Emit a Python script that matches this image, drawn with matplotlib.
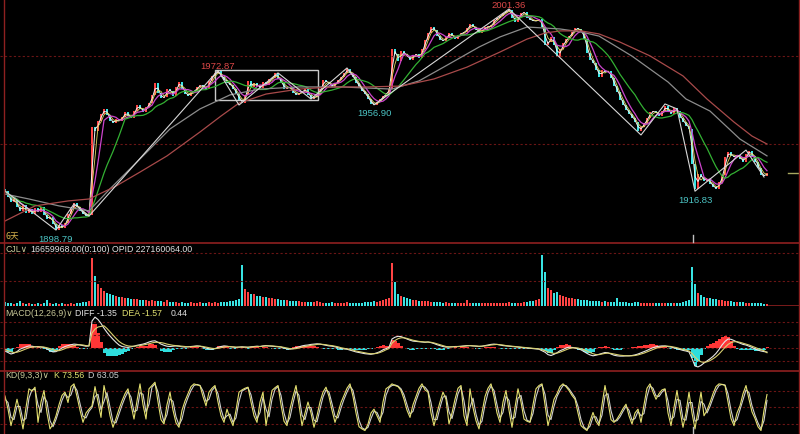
import matplotlib
matplotlib.use("Agg")
import matplotlib.pyplot as plt
from matplotlib.lines import Line2D
from matplotlib.patches import Rectangle
import numpy as np
import pandas as pd

# ---- data (one bar per candle, 6 sessions) ----
close = [
    1916.9, 1914.1, 1911.8, 1913.2, 1909.5, 1907.6, 1910.4, 1906.7, 1908.6, 1906.2,
    1909.0, 1907.2, 1909.5, 1905.8, 1903.9, 1904.9, 1901.6, 1898.8, 1901.1, 1899.7,
    1902.1, 1906.2, 1908.6, 1911.3, 1909.5, 1907.6, 1906.2, 1905.3, 1905.8,
    1946.6, 1944.8, 1949.4, 1952.6, 1955.0, 1952.2, 1949.4, 1948.5, 1950.3, 1949.4,
    1951.3, 1953.6, 1951.7, 1950.8, 1954.0, 1956.8, 1955.0, 1953.6, 1955.9, 1957.7,
    1961.5, 1967.0, 1962.4, 1960.1, 1960.5, 1964.2, 1963.3, 1961.0, 1965.2, 1967.5,
    1964.2, 1961.9, 1961.0, 1962.9, 1963.3, 1965.2, 1966.1, 1965.2, 1964.2, 1968.0,
    1970.3, 1971.7, 1972.6, 1969.8, 1968.4, 1967.0, 1966.1, 1964.2, 1961.9, 1959.1,
    1957.7, 1961.5, 1968.0, 1965.2, 1967.0, 1965.6, 1964.7, 1967.5, 1966.1, 1968.9,
    1969.3, 1971.7, 1968.9, 1967.0, 1964.2, 1965.2, 1964.7, 1962.4, 1961.5, 1962.4,
    1963.3, 1964.2, 1961.5, 1959.6, 1960.5, 1961.5, 1964.2, 1968.4, 1967.5, 1966.6,
    1965.2, 1967.0, 1968.4, 1969.8, 1971.7, 1973.5, 1971.7, 1969.8, 1967.0, 1964.7,
    1963.3, 1961.9, 1959.6, 1957.3, 1956.9, 1958.2, 1959.6, 1961.0, 1962.4, 1964.2,
    1982.8, 1980.5, 1977.2, 1981.9, 1980.5, 1979.1, 1977.7, 1980.0, 1980.5, 1978.6,
    1982.8, 1987.0, 1990.2, 1993.0, 1991.6, 1988.8, 1987.0, 1986.5, 1988.4, 1990.2,
    1988.8, 1987.4, 1989.3, 1990.2, 1990.7, 1992.5, 1994.4, 1993.0, 1991.6, 1990.2,
    1991.6, 1993.0, 1993.0, 1993.9, 1996.3, 1997.2, 1998.1, 1999.5, 2000.4, 2000.9,
    1997.2, 1995.3, 1997.6, 1999.5, 2000.0, 1997.2, 1996.3, 1995.8, 1995.8, 1996.7,
    1993.0, 1984.7, 1986.0, 1988.4, 1984.7, 1979.1, 1982.8, 1985.6, 1987.4, 1988.8,
    1990.7, 1992.5, 1992.1, 1990.7, 1987.4, 1980.9, 1977.7, 1976.3, 1973.1, 1969.8,
    1973.1, 1972.1, 1972.6, 1969.3, 1965.6, 1962.9, 1959.1, 1956.8, 1954.5, 1952.6,
    1950.8, 1948.9, 1944.8, 1946.6, 1948.5, 1950.8, 1953.6, 1954.0, 1953.1, 1951.7,
    1954.0, 1956.4, 1954.0, 1952.6, 1955.4, 1954.0, 1950.8, 1948.9, 1947.1, 1945.7,
    1929.4, 1917.8, 1924.8, 1923.4, 1921.6, 1922.5, 1920.2, 1918.8, 1917.8, 1921.1,
    1924.3, 1932.7, 1935.0, 1933.2, 1932.7, 1933.6, 1931.8, 1930.4, 1934.1, 1935.5,
    1933.2, 1930.4, 1927.6, 1924.3, 1923.9, 1925.3,
]
first_open = 1918.0

# volume in millions
volume = [
    32, 24, 24, 16, 24, 40, 24, 16, 24, 16, 16, 24, 16, 24, 48, 24, 16, 24, 16, 24,
    16, 16, 24, 16, 24, 24, 32, 32, 40,
    384, 240, 176, 144, 120, 104, 96, 88, 80, 72, 72, 64, 64, 56, 56, 56, 48, 48, 48, 40,
    48, 40, 40, 40, 32, 48, 32, 32, 32, 24, 32, 24, 24, 32, 24, 24, 32, 24, 24, 32,
    24, 32, 24, 32, 32, 32, 40, 40, 48, 56,
    328, 136, 112, 96, 96, 80, 80, 72, 72, 64, 64, 56, 56, 48, 48, 48, 40, 40, 40, 40,
    32, 32, 32, 32, 32, 40, 32, 24, 24, 24, 32, 24, 24, 24, 24, 32, 24, 24, 24, 24,
    24, 32, 32, 32, 40, 32, 40, 48, 56, 64,
    344, 192, 96, 80, 72, 64, 56, 48, 48, 40, 40, 40, 40, 32, 32, 32, 32, 24, 32, 24,
    24, 24, 24, 24, 24, 48, 24, 24, 24, 24, 24, 24, 24, 24, 24, 24, 24, 24, 24, 32,
    24, 24, 24, 24, 32, 32, 40, 40, 48, 56,
    408, 272, 144, 128, 104, 112, 88, 80, 72, 64, 64, 56, 56, 48, 48, 48, 40, 40, 40, 40,
    32, 40, 32, 32, 32, 64, 32, 32, 32, 24, 24, 32, 32, 24, 24, 24, 24, 24, 24, 24,
    24, 24, 24, 24, 24, 24, 24, 32, 40, 48,
    312, 176, 104, 88, 72, 64, 64, 56, 56, 48, 48, 40, 40, 40, 32, 32, 32, 32, 24, 24,
    24, 24, 24, 24, 18, 16.659968,
]
open_interest = 227160064

diff = [
    -1.0, -1.5, -2.0, -1.7, -1.2, -0.4, 0.0, 0.4, 0.7, 0.6, 0.4, 0.5, 0.3, 0.2, -0.3,
    -0.9, -1.3, -1.2, -0.6, 0.0, 0.5, 0.8, 1.1, 1.3, 1.2, 1.0, 0.8, 0.6, 0.7,
    9.0, 10.3, 9.5, 8.2, 6.6, 5.2, 4.0, 2.9, 1.9, 1.0, 0.5, 0.3, 0.2, 0.4, 0.6, 0.9,
    1.1, 1.3, 1.6, 2.0, 2.3, 2.4, 1.9, 1.3, 0.9, 0.6, 0.5, 0.6, 0.7, 0.6, 0.4, 0.3,
    0.4, 0.5, 0.6, 0.7, 0.6, 0.3, 0.0, -0.3, -0.4, -0.2, 0.2, 0.5, 0.7, 0.6, 0.4, 0.3,
    0.2, 0.3,
    0.4, 0.3, 0.2, 0.4, 0.5, 0.6, 0.5, 0.7, 0.8, 0.7, 0.6, 0.5, 0.4, 0.3, 0.0, -0.3,
    -0.4, -0.2, 0.1, 0.4, 0.7, 0.9, 1.0, 1.2, 1.3, 1.4, 1.3, 1.1, 0.9, 0.7, 0.6, 0.4,
    0.1, -0.2, -0.3, -0.4, -0.7, -1.0, -1.3, -1.5, -1.7, -1.9, -2.0, -2.1, -1.9, -1.6,
    -1.2, -0.6, -0.2, 0.2,
    3.0, 3.6, 3.9, 3.8, 3.4, 3.0, 2.6, 2.3, 2.2, 2.1, 2.0, 1.9, 2.0, 1.8, 1.5, 1.1,
    0.8, 0.5, 0.3, 0.3, 0.4, 0.5, 0.5, 0.6, 0.7, 0.8, 0.8, 0.7, 0.6, 0.5, 0.6, 0.8,
    1.0, 1.2, 1.3, 1.2, 1.0, 0.8, 0.7, 0.6, 0.5, 0.4, 0.3, 0.2, 0.1, 0.0, -0.1, -0.2,
    -0.3, -0.4,
    -0.9, -1.4, -2.2, -2.5, -2.1, -1.6, -0.9, -0.5, 0.0, 0.3, 0.2, 0.0, -0.3, -0.6,
    -1.2, -1.8, -2.3, -2.6, -2.4, -2.1, -1.8, -1.5, -1.6, -2.0, -2.4, -2.6, -2.7, -2.7,
    -2.6, -2.6, -2.5, -2.3, -2.0, -1.6, -1.2, -0.8, -0.3, 0.1, 0.4, 0.6, 0.7, 0.7, 0.5,
    0.3, 0.1, -0.2, -0.5, -0.8, -1.0, -1.3,
    -3.5, -6.0, -6.3, -5.8, -5.0, -4.3, -3.6, -2.8, -1.8, -0.5, 1.0, 2.2, 3.0, 2.9,
    2.5, 2.0, 1.6, 1.2, 1.0, 0.6, 0.2, -0.3, -0.7, -1.0, -1.2, -1.35,
]
dea = [
    -0.6, -0.9, -1.3, -1.5, -1.4, -1.1, -0.7, -0.3, 0.1, 0.3, 0.4, 0.4, 0.4, 0.3, 0.1,
    -0.2, -0.6, -0.9, -0.9, -0.6, -0.2, 0.2, 0.5, 0.8, 1.0, 1.1, 1.0, 0.8, 0.7,
    5.0, 6.3, 7.0, 7.2, 7.4, 6.5, 5.4, 4.3, 3.2, 2.2, 1.5, 1.0, 0.7, 0.6, 0.6, 0.7,
    0.8, 1.0, 1.2, 1.4, 1.7, 1.9, 1.9, 1.8, 1.6, 1.3, 1.1, 0.9, 0.8, 0.7, 0.6, 0.5,
    0.4, 0.4, 0.5, 0.6, 0.6, 0.5, 0.3, 0.1, -0.1, -0.2, -0.1, 0.1, 0.3, 0.5, 0.5, 0.4,
    0.3, 0.3,
    0.3, 0.3, 0.3, 0.3, 0.4, 0.5, 0.5, 0.6, 0.7, 0.7, 0.7, 0.6, 0.5, 0.4, 0.2, 0.0,
    -0.2, -0.3, -0.2, 0.0, 0.3, 0.5, 0.7, 0.9, 1.0, 1.2, 1.3, 1.2, 1.1, 0.9, 0.8, 0.6,
    0.4, 0.1, -0.1, -0.3, -0.5, -0.7, -1.0, -1.2, -1.4, -1.6, -1.8, -1.9, -1.9, -1.8,
    -1.5, -1.1, -0.6, -0.2,
    1.6, 2.5, 3.1, 3.4, 3.4, 3.2, 2.9, 2.6, 2.4, 2.2, 2.1, 2.0, 2.0, 1.9, 1.7, 1.4,
    1.1, 0.8, 0.5, 0.4, 0.4, 0.4, 0.5, 0.5, 0.6, 0.7, 0.8, 0.7, 0.7, 0.6, 0.6, 0.7,
    0.8, 1.0, 1.1, 1.2, 1.1, 1.0, 0.8, 0.7, 0.6, 0.5, 0.4, 0.3, 0.2, 0.1, 0.0, -0.1,
    -0.2, -0.3,
    -0.6, -0.9, -1.3, -1.6, -1.8, -1.7, -1.4, -1.0, -0.6, -0.2, 0.0, 0.1, 0.0, -0.3,
    -0.6, -1.0, -1.5, -1.9, -2.2, -2.2, -2.0, -1.8, -1.7, -1.8, -2.0, -2.2, -2.4, -2.5,
    -2.6, -2.6, -2.6, -2.5, -2.3, -2.0, -1.7, -1.3, -0.9, -0.5, -0.1, 0.2, 0.4, 0.6,
    0.6, 0.5, 0.3, 0.1, -0.2, -0.5, -0.7, -1.0,
    -1.8, -3.0, -4.0, -4.6, -4.8, -4.6, -4.2, -3.6, -2.9, -2.0, -0.9, 0.2, 1.2, 1.8,
    2.1, 2.1, 1.9, 1.6, 1.3, 1.0, 0.6, 0.2, -0.2, -0.6, -0.9, -1.57,
]

k_line = [
    71, 47, 17, 40, 65, 40, 11, 50, 84, 80, 87, 23, 60, 81, 40, 11, 20, 35, 55, 72,
    78, 59, 88, 93, 70, 45, 23, 40, 47,
    53, 88, 60, 32, 90, 65, 35, 14, 30, 47, 62, 75, 84, 55, 29, 62, 93, 55, 29, 84,
    90, 96, 60, 28, 20, 55, 78, 45, 22, 14, 45, 62, 75, 88, 93, 91, 90, 70, 53, 78,
    85, 90, 60, 35, 23, 47, 30, 17, 45, 78,
    82, 85, 87, 60, 35, 23, 60, 78, 17, 50, 81, 86, 90, 55, 25, 17, 47, 70, 90, 55,
    17, 40, 60, 40, 14, 35, 60, 78, 87, 70, 45, 23, 40, 59, 72, 85, 93, 70, 40, 15,
    11, 8, 20, 40, 47, 35, 23, 60, 84, 88,
    93, 90, 88, 81, 65, 45, 32, 55, 70, 85, 93, 82, 78, 40, 17, 40, 60, 78, 65, 20,
    40, 65, 85, 90, 35, 17, 84, 50, 26, 11, 40, 70, 85, 93, 70, 40, 23, 60, 81, 45,
    14, 50, 84, 60, 29, 25, 23, 55, 84, 90,
    93, 55, 17, 40, 65, 75, 88, 93, 88, 81, 72, 65, 40, 17, 12, 8, 25, 41, 25, 17,
    55, 90, 60, 28, 23, 29, 38, 48, 56, 35, 20, 40, 47, 23, 55, 85, 93, 78, 65, 75,
    82, 84, 40, 17, 50, 81, 45, 14, 40, 78,
    40, 11, 45, 78, 35, 45, 59, 75, 88, 93, 92, 90, 60, 30, 17, 40, 53, 75, 90, 65,
    42, 30, 15, 8, 45, 73.56,
]
d_line = [
    65, 59, 32, 28, 52, 52, 26, 30, 67, 82, 83, 55, 41, 70, 60, 26, 15, 28, 45, 63,
    75, 68, 73, 90, 81, 57, 34, 31, 43,
    50, 70, 74, 46, 61, 77, 50, 24, 22, 38, 54, 68, 79, 69, 42, 45, 77, 74, 42, 56,
    87, 93, 78, 44, 24, 37, 66, 61, 33, 18, 29, 53, 68, 81, 90, 92, 90, 80, 61, 65,
    81, 87, 75, 47, 29, 35, 38, 23, 31, 61,
    80, 83, 86, 73, 47, 29, 41, 69, 47, 33, 65, 83, 88, 72, 40, 21, 32, 58, 80, 72,
    36, 28, 50, 50, 27, 24, 47, 69, 82, 78, 57, 34, 31, 49, 65, 78, 89, 81, 55, 27,
    13, 10, 14, 30, 43, 41, 29, 41, 72, 86,
    90, 91, 89, 84, 73, 55, 38, 43, 62, 77, 89, 87, 80, 59, 28, 28, 50, 69, 71, 42,
    30, 52, 75, 87, 62, 26, 50, 67, 38, 18, 25, 55, 77, 89, 81, 55, 31, 41, 70, 63,
    29, 32, 67, 72, 44, 27, 24, 39, 69, 87,
    91, 74, 36, 28, 52, 70, 81, 90, 90, 84, 76, 68, 52, 28, 14, 10, 16, 33, 33, 21,
    36, 72, 75, 44, 25, 26, 33, 43, 52, 45, 27, 30, 43, 35, 39, 70, 89, 85, 71, 70,
    78, 83, 62, 28, 33, 65, 63, 29, 27, 59,
    59, 25, 28, 61, 56, 40, 52, 67, 81, 90, 92, 91, 75, 45, 23, 28, 46, 64, 82, 77,
    53, 36, 22, 11, 26, 63.05,
]

# long moving averages, read at a few bars
ma_slow_idx = [0, 10, 21, 28, 37, 45, 54, 65, 72, 78, 87, 98, 109, 121, 132, 143,
               154, 165, 174, 180, 185, 192, 198, 205, 215, 226, 234, 243, 249, 254]
ma_slow = [1903.0, 1910.0, 1912.3, 1913.2, 1919.2, 1925.7, 1933.2, 1944.3, 1951.7,
           1957.7, 1961.9, 1964.2, 1965.2, 1965.2, 1965.6, 1968.9, 1974.4, 1981.4,
           1987.4, 1990.2, 1991.2, 1991.2, 1989.8, 1986.0, 1979.6, 1970.3, 1959.6,
           1948.9, 1942.4, 1938.7]
ma_mid_idx = [0, 8, 18, 28, 35, 45, 55, 65, 75, 85, 98, 112, 129, 138, 148, 158,
              165, 174, 185, 192, 198, 209, 221, 227, 235, 245, 254]
ma_mid = [1915.5, 1913.2, 1910.0, 1907.7, 1917.9, 1931.8, 1945.7, 1955.0, 1961.5,
          1964.2, 1965.2, 1965.2, 1964.2, 1968.0, 1975.8, 1983.7, 1988.4, 1993.0,
          1992.1, 1990.7, 1988.8, 1979.5, 1967.5, 1959.6, 1954.0, 1941.0, 1933.2]

# zigzag swing points
zz_idx = [0, 17, 23, 28, 71, 78, 91, 102, 114, 123, 168, 212, 220, 224, 230, 247, 253]
zz_price = [1916.9, 1898.79, 1910.9, 1905.3, 1972.87, 1956.8, 1971.7, 1959.6, 1974.0,
            1956.90, 2001.36, 1942.9, 1957.3, 1955.0, 1916.83, 1935.9, 1923.4]

# marked extremes
ext_idx = [17, 71, 123, 168, 230]
ext_price = [1898.79, 1972.87, 1956.90, 2001.36, 1916.83]
ext_high = [False, True, False, True, False]

# consolidation box
box_start, box_end = 70, 104.3
box_low, box_high = 1959.1, 1972.9

price_grid = [1979.5, 1938.7]

# ---- layout ----
W, H = 800, 435
FONT = ['Liberation Sans', 'DejaVu Sans']
CJK = ['Noto Sans CJK SC', 'DejaVu Sans']
FS = 6.3
SEP = '#8e2020'
GRID = '#6a1515'
UP, DOWN = '#ff4444', '#38e4e4'

n = len(close)
assert all(len(a) == n for a in (volume, diff, dea, k_line, d_line))
x = np.arange(n)
close = np.array(close)
opens = np.r_[first_open, close[:-1]]
up = close >= opens

fig = plt.figure(figsize=(W / 100, H / 100), dpi=100, facecolor='black')


def band(top, bottom):
    return fig.add_axes([0, 1 - bottom / H, 1, (bottom - top) / H])


ax_p = band(0, 243)
ax_v = band(244, 307)
ax_m = band(308, 371)
ax_k = band(371, 435)
for ax in (ax_p, ax_v, ax_m, ax_k):
    ax.set_facecolor('black')
    ax.set_axis_off()
    ax.set_xlim(-5 / 3, 265)

dash = dict(color=GRID, lw=0.8, ls=(0, (2, 2)))

# price panel
ax_p.set_ylim(1893.25, 2006.0)
for g in price_grid:
    ax_p.axhline(g, **dash)
lo = np.minimum(opens, close)
body = np.maximum(np.abs(close - opens), 0.5)
ax_p.bar(x, body, bottom=lo, width=0.6, color=np.where(up, UP, DOWN), linewidth=0)
s = pd.Series(close)
ax_p.plot(x, s.rolling(2, min_periods=1).mean(), color='#f0f0f0', lw=0.7)
ax_p.plot(x, s.rolling(3, min_periods=1).mean(), color='#e0d860', lw=0.6)
ax_p.plot(x, s.rolling(5, min_periods=1).mean(), color='#cc44cc', lw=0.9)
ax_p.plot(x, s.rolling(12, min_periods=1).mean(), color='#33b033', lw=0.9)
ax_p.plot(ma_mid_idx, ma_mid, color='#8c8c8c', lw=0.9)
ax_p.plot(ma_slow_idx, ma_slow, color='#a84a4a', lw=0.9)
ax_p.plot(zz_idx, zz_price, color='#d8d8d8', lw=0.8)
ax_p.add_patch(Rectangle((box_start, box_low), box_end - box_start, box_high - box_low,
                         fill=False, ec='#c8c8c8', lw=1))
for i, p, hi in zip(ext_idx, ext_price, ext_high):
    ax_p.annotate(f"{p:.2f}", (i, p), xytext=(0, 5 if hi else -8),
                  textcoords='offset pixels', ha='center', va='center',
                  color='#dd4848' if hi else '#4cc4c4', fontsize=6.8, family=FONT)
ax_p.plot([261, 265], [close[-1], close[-1]], color='#a8a860', lw=1)

# volume panel
vmax = 504
ax_v.set_ylim(0, vmax)
for g in (200, 424):
    ax_v.axhline(g, **dash)
ax_v.bar(x, volume, width=0.75, color=np.where(up, UP, DOWN), linewidth=0)
ax_v.plot([n - 0.5, 265], [0, 0], color=SEP, lw=1.2)

# MACD panel
diff = np.array(diff)
dea = np.array(dea)
macd = 2 * (diff - dea)
ax_m.set_ylim(-7.33, 13.67)
for g in (8.67, 4.33, 0, -4.33):
    ax_m.axhline(g, **dash)
ax_m.bar(x, macd, width=1.0, color=np.where(macd >= 0, '#ff3636', '#2edede'), linewidth=0)
ax_m.plot(x, diff, color='#e6e6e6', lw=0.8)
ax_m.plot(x, dea, color='#d8d070', lw=0.8)

# KD panel
ax_k.set_ylim(1.8, 118.2)
for g in (80, 50, 20):
    ax_k.axhline(g, **dash)
ax_k.plot(x, d_line, color='#d0d0d0', lw=0.8)
ax_k.plot(x, k_line, color='#e4e070', lw=0.8)


# frame lines
def hline(y, **kw):
    fig.add_artist(Line2D([0, 1], [1 - y / H] * 2, transform=fig.transFigure, **kw))


def vline(xp, y0, y1, **kw):
    fig.add_artist(Line2D([xp / W] * 2, [1 - y0 / H, 1 - y1 / H],
                          transform=fig.transFigure, **kw))


hline(243.5, color=SEP, lw=1.2)
hline(371.5, color=SEP, lw=1.2)
vline(4, 0, H, color=SEP, lw=1.0)
vline(798.5, 0, H, color=SEP, lw=1.0)
vline(693, 236, 243, color='#c0c0c0', lw=1)
vline(693, 428, 435, color='#c0c0c0', lw=1)


def label(xp, yp, txt, col, fam=FONT):
    fig.text(xp / W, 1 - yp / H, txt, color=col, fontsize=FS, family=fam,
             ha='left', va='center')


HEAD = '#c8c898'
VAL = '#e0e0e0'
label(5, 236, '6天', '#d4b04c', CJK)
label(5, 250, 'CJL\u2228', HEAD)
label(30, 250, f"{volume[-1] * 1e6:.2f}(0:100)", VAL)
label(112, 250, f"OPID {open_interest:.2f}", VAL)
label(5, 313, 'MACD(12,26,9)\u2228', HEAD)
label(75, 313, f"DIFF {diff[-1]:.2f}", VAL)
label(122, 313, f"DEA {dea[-1]:.2f}", '#e0e070')
label(171, 313, f"{macd[-1]:.2f}", VAL)
label(5, 376, 'KD(9,3,3)\u2228', HEAD)
label(54, 376, f"K {k_line[-1]:.2f}", '#e0e070')
label(88, 376, f"D {d_line[-1]:.2f}", '#d0d0d0')

fig.savefig('out.png', dpi=100, facecolor='black')
